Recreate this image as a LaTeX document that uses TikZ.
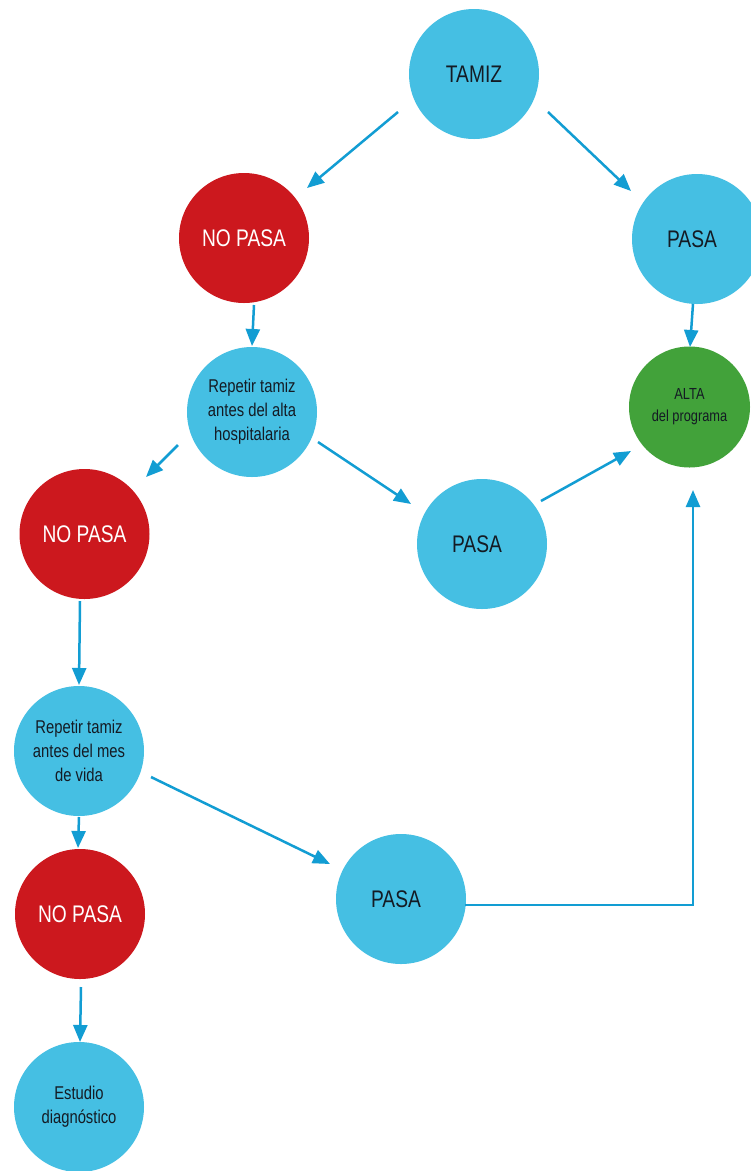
\documentclass[tikz,border=0pt]{standalone}
\usepackage{fontspec}
\setmainfont{Liberation Sans}[FakeStretch=0.8]
\usetikzlibrary{arrows.meta,calc}
\definecolor{cblue}{HTML}{45BFE3}
\definecolor{cred}{HTML}{CC181E}
\definecolor{cgreen}{HTML}{42A23A}
\definecolor{carrow}{HTML}{129DD3}
\definecolor{ctext}{HTML}{141B24}
\tikzset{
  circ/.style={circle, minimum size=130pt, inner sep=0pt, align=center},
  bluec/.style={circ, fill=cblue, text=ctext},
  redc/.style={circ, fill=cred, text=white},
  greenc/.style={circle, minimum size=121pt, inner sep=0pt, align=center, fill=cgreen, text=ctext},
  big/.style={font=\fontsize{24}{28}\selectfont},
  small/.style={font=\fontsize{18.5}{24}\selectfont},
  tiny/.style={font=\fontsize{16}{22}\selectfont},
  arr/.style={draw=carrow, line width=2.5pt, -{Triangle[length=17pt,width=14pt]}},
}
\newcommand{\pasatext}{\hspace*{-10pt}PASA}
\begin{document}
\begin{tikzpicture}[x=1pt,y=-1pt]
\clip (0,0) rectangle (751,1171);
\fill[white] (0,0) rectangle (751,1171);

\node[bluec,big] (tamiz) at (474,74) {TAMIZ};
\node[redc,big] (np1) at (244,238) {NO PASA};
\node[bluec,big] (pasa1) at (697,239) {\pasatext};
\node[bluec,small] (rep1) at (252,412) {Repetir tamiz\\antes del alta\\hospitalaria};
\node[greenc,tiny] (alta) at (689.5,407) {ALTA\\del programa};
\node[redc,big] (np2) at (84.5,534) {NO PASA};
\node[bluec,big] (pasa2) at (482,544) {\pasatext};
\node[bluec,small] (rep2) at (79,751) {Repetir tamiz\\antes del mes\\de vida};
\node[redc,big] (np3) at (80,914) {NO PASA};
\node[bluec,big] (pasa3) at (401,899) {\pasatext};
\node[bluec,small] (est) at (79,1107) {Estudio\\diagnóstico};

\draw[arr] ($(tamiz)+(-76,38)$) -- ($(np1)+(63,-50)$);
\draw[arr] ($(tamiz)+(74,38)$) -- ($(pasa1)+(-66,-48)$);
\draw[arr] ($(np1)+(10,67)$) -- ($(rep1)+(0,-66)$);
\draw[arr] ($(pasa1)+(-4,65)$) -- ($(alta)+(0.5,-60)$);
\draw[arr] ($(rep1)+(-74,33)$) -- ($(np2)+(61.5,-57)$);
\draw[arr] ($(rep1)+(66,30)$) -- ($(pasa2)+(-71,-40)$);
\draw[arr] ($(pasa2)+(59,-43)$) -- ($(alta)+(-58.5,44)$);
\draw[arr] ($(np2)+(-4.5,67)$) -- ($(rep2)+(0,-66)$);
\draw[arr] ($(rep2)+(0,66)$) -- ($(np3)+(-2,-66)$);
\draw[arr] ($(rep2)+(72,26)$) -- ($(pasa3)+(-71,-35)$);
\draw[arr] ($(pasa3)+(64,6)$) -| ($(alta)+(3.5,83)$);
\draw[arr] ($(np3)+(1,73)$) -- ($(est)+(1,-65)$);
\end{tikzpicture}
\end{document}
